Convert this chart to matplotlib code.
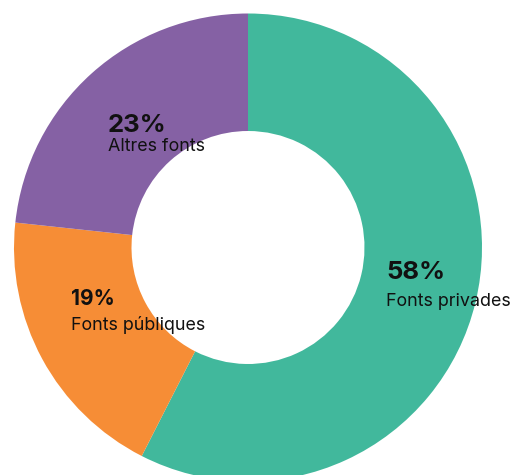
import matplotlib.pyplot as plt

# Data
labels = ["Fonts privades", "Fonts públiques", "Altres fonts"]
values = [57.5, 19.2, 23.3]
pct_labels = ["58%", "19%", "23%"]
colors = ["#41B89C", "#F68D36", "#8561A4"]

W, H = 520, 475
fig = plt.figure(figsize=(W / 100, H / 100), dpi=100, facecolor="white")
ax = fig.add_axes([0, 0, 1, 1])

cx, cy, r = 248, H - 247.5, 234
ax.pie(values, colors=colors, startangle=90, counterclock=False,
       center=(cx, cy), radius=r,
       wedgeprops=dict(width=r - 116.5, linewidth=0))

ax.set_xlim(0, W)
ax.set_ylim(0, H)
ax.set_aspect("equal")
ax.axis("off")

# label positions in pixel coords (left, pct baseline, label baseline)
pos = [(386, 279, 306), (71, 305, 330), (108, 132, 151)]
sizes = [18.5, 15, 18.5]
for (x, yp, yl), lab, p, s in zip(pos, labels, pct_labels, sizes):
    ax.text(x, H - yp, p, fontsize=s, fontweight="bold",
            family="Inter", color="#111111", va="baseline", ha="left")
    ax.text(x, H - yl, lab, fontsize=12.9, family="Inter",
            color="#111111", va="baseline", ha="left")

plt.savefig("out.png", dpi=100)
